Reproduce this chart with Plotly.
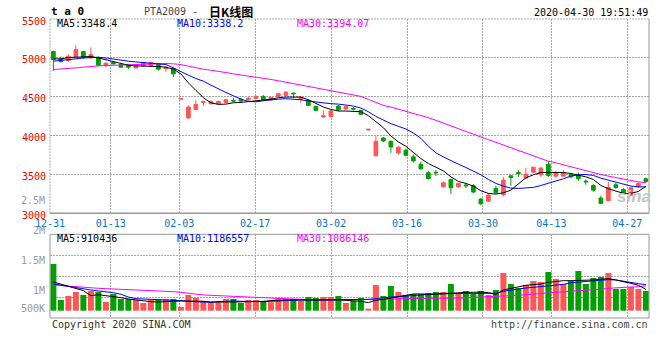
import plotly.graph_objects as go

# ---------------- data ----------------
DATES = ["12-31",
         "01-02", "01-03", "01-06", "01-07", "01-08", "01-09", "01-10", "01-13", "01-14",
         "01-15", "01-16", "01-17", "01-20", "01-21", "01-22", "01-23",
         "02-03", "02-04", "02-05", "02-06", "02-07", "02-10", "02-11", "02-12", "02-13",
         "02-14", "02-17", "02-18", "02-19", "02-20", "02-21", "02-24", "02-25", "02-26",
         "02-27", "02-28",
         "03-02", "03-03", "03-04", "03-05", "03-06", "03-09", "03-10", "03-11", "03-12",
         "03-13", "03-16", "03-17", "03-18", "03-19", "03-20", "03-23", "03-24", "03-25",
         "03-26", "03-27", "03-30", "03-31",
         "04-01", "04-02", "04-03", "04-07", "04-08", "04-09", "04-10", "04-13", "04-14",
         "04-15", "04-16", "04-17", "04-20", "04-21", "04-22", "04-23", "04-24", "04-27",
         "04-28", "04-29", "04-30"]

OPEN = [5081, 4987, 4965, 5017, 5081, 4999, 4999, 4905, 4940, 4914,
        4905, 4871, 4897, 4901, 4923, 4863, 4863, 4469, 4226, 4337,
        4427, 4410, 4410, 4427, 4452, 4465, 4461, 4478, 4504, 4461,
        4504, 4517, 4546, 4469, 4452, 4375, 4239, 4247, 4380, 4341,
        4350, 4324, 4072, 3739, 3969, 3927, 3777, 3811, 3726, 3632,
        3521, 3529, 3341, 3435, 3341, 3363, 3354, 3183, 3157, 3320,
        3243, 3482, 3525, 3452, 3529, 3495, 3632, 3478, 3478, 3499,
        3491, 3414, 3358, 3196, 3162, 3367, 3307, 3230, 3341, 3444]
HIGH = [5093, 5017, 5042, 5162, 5081, 5136, 5017, 4940, 4948, 4931,
        4905, 4914, 4948, 4952, 4931, 4888, 4880, 4482, 4388, 4452,
        4452, 4452, 4448, 4469, 4487, 4487, 4495, 4512, 4521, 4495,
        4546, 4568, 4555, 4504, 4461, 4384, 4324, 4333, 4393, 4384,
        4367, 4333, 4085, 3995, 3982, 3935, 3863, 3833, 3756, 3666,
        3546, 3555, 3410, 3444, 3392, 3392, 3375, 3196, 3256, 3354,
        3469, 3491, 3555, 3585, 3597, 3597, 3666, 3546, 3555, 3521,
        3525, 3435, 3375, 3226, 3401, 3392, 3324, 3341, 3401, 3461]
LOW = [4829, 4940, 4948, 5017, 4987, 4999, 4897, 4880, 4914, 4871,
       4854, 4863, 4888, 4880, 4837, 4820, 4752, 4465, 4222, 4337,
       4380, 4397, 4401, 4418, 4427, 4427, 4452, 4469, 4452, 4452,
       4495, 4508, 4482, 4418, 4380, 4316, 4239, 4230, 4316, 4333,
       4324, 4264, 4068, 3739, 3914, 3777, 3756, 3730, 3653, 3555,
       3435, 3478, 3333, 3247, 3333, 3324, 3256, 3106, 3145, 3256,
       3217, 3354, 3469, 3452, 3521, 3469, 3469, 3452, 3469, 3452,
       3418, 3367, 3277, 3119, 3162, 3316, 3256, 3221, 3324, 3392]
CLOSE = [4978, 4952, 5021, 5106, 5008, 5042, 4905, 4931, 4923, 4880,
         4880, 4905, 4940, 4940, 4854, 4880, 4794, 4478, 4367, 4401,
         4435, 4440, 4440, 4461, 4444, 4444, 4482, 4504, 4461, 4491,
         4538, 4559, 4538, 4495, 4388, 4324, 4256, 4316, 4333, 4375,
         4341, 4273, 4081, 3927, 3931, 3854, 3850, 3747, 3674, 3572,
         3448, 3521, 3392, 3328, 3384, 3354, 3273, 3123, 3234, 3264,
         3427, 3461, 3512, 3504, 3593, 3581, 3487, 3521, 3521, 3469,
         3444, 3405, 3298, 3127, 3333, 3333, 3264, 3328, 3384, 3410]

MA5 = [4987, 4987, 5004, 5008, 5017, 5017, 4999, 4974, 4948, 4923,
       4905, 4897, 4897, 4897, 4888, 4880, 4854, 4794, 4679, 4581,
       4487, 4422, 4401, 4405, 4422, 4427, 4435, 4444, 4457, 4469,
       4487, 4495, 4495, 4495, 4461, 4418, 4367, 4337, 4316, 4316,
       4316, 4307, 4256, 4179, 4102, 3995, 3918, 3863, 3786, 3704,
       3640, 3597, 3546, 3469, 3410, 3384, 3350, 3290, 3256, 3247,
       3264, 3298, 3384, 3457, 3495, 3525, 3525, 3529, 3525, 3512,
       3495, 3469, 3435, 3358, 3316, 3290, 3256, 3256, 3281, 3348]
MA10 = [4957, 4965, 4974, 4987, 4999, 5008, 5008, 4999, 4982, 4965,
        4957, 4948, 4940, 4931, 4923, 4914, 4871, 4829, 4777, 4734,
        4700, 4649, 4598, 4555, 4512, 4469, 4440, 4435, 4448, 4461,
        4469, 4474, 4469, 4461, 4444, 4431, 4418, 4410, 4405, 4397,
        4380, 4354, 4307, 4247, 4196, 4153, 4119, 4085, 4033, 3965,
        3863, 3777, 3726, 3674, 3632, 3589, 3546, 3495, 3435, 3384,
        3350, 3324, 3320, 3324, 3333, 3358, 3384, 3410, 3444, 3478,
        3495, 3499, 3487, 3452, 3427, 3392, 3367, 3350, 3341, 3338]
MA30 = [4850, 4854, 4858, 4871, 4880, 4893, 4897, 4901, 4905, 4910,
        4914, 4918, 4923, 4927, 4927, 4927, 4923, 4914, 4893, 4871,
        4854, 4841, 4829, 4811, 4794, 4781, 4764, 4752, 4734, 4722,
        4705, 4687, 4670, 4653, 4636, 4615, 4593, 4581, 4564, 4546,
        4529, 4504, 4465, 4427, 4388, 4367, 4341, 4316, 4290, 4264,
        4230, 4196, 4162, 4128, 4089, 4055, 4016, 3982, 3948, 3914,
        3875, 3837, 3803, 3768, 3734, 3700, 3670, 3649, 3623, 3597,
        3572, 3546, 3521, 3499, 3478, 3457, 3439, 3422, 3405, 3394]

VOLUME = [1478000, 878000, 945000, 1012000, 962000, 1028000, 1012000, 845000, 978000, 895000,
          895000, 878000, 828000, 887000, 887000, 895000, 895000, 762000, 962000, 912000,
          862000, 837000, 862000, 895000, 895000, 828000, 878000, 878000, 857000, 840000,
          912000, 895000, 895000, 862000, 928000, 912000, 928000, 928000, 945000, 828000,
          862000, 912000, 733000, 1128000, 945000, 1112000, 1012000, 962000, 978000, 978000,
          995000, 1012000, 1012000, 1145000, 995000, 1028000, 978000, 1028000, 962000, 1045000,
          1328000, 1145000, 1078000, 1128000, 1195000, 1178000, 1345000, 1228000, 1145000, 1195000,
          1362000, 1145000, 1245000, 1262000, 1328000, 1062000, 1062000, 1095000, 1062000, 1028000]
VMA5 = [1178000, 1145000, 1100000, 1067000, 1034000, 950000, 967000, 950000, 939000, 917000,
        895000, 878000, 867000, 850000, 845000, 845000, 856000, 862000, 862000, 862000,
        856000, 845000, 839000, 845000, 845000, 845000, 845000, 850000, 856000, 867000,
        878000, 878000, 878000, 878000, 884000, 889000, 889000, 889000, 878000, 873000,
        867000, 856000, 834000, 873000, 889000, 912000, 934000, 967000, 978000, 978000,
        973000, 973000, 978000, 989000, 1006000, 1006000, 1006000, 1011000, 1000000, 973000,
        1045000, 1073000, 1100000, 1123000, 1134000, 1145000, 1173000, 1189000, 1200000, 1200000,
        1200000, 1206000, 1212000, 1223000, 1234000, 1212000, 1189000, 1156000, 1123000, 1056000]
VMA10 = [1145000, 1123000, 1106000, 1089000, 1067000, 1045000, 1028000, 1017000, 1000000, 973000,
         928000, 900000, 895000, 889000, 889000, 884000, 878000, 867000, 856000, 850000,
         845000, 839000, 850000, 862000, 862000, 856000, 850000, 850000, 850000, 856000,
         862000, 873000, 878000, 878000, 878000, 878000, 884000, 889000, 878000, 878000,
         878000, 884000, 889000, 900000, 917000, 928000, 934000, 945000, 956000, 967000,
         978000, 984000, 989000, 989000, 989000, 989000, 989000, 989000, 989000, 989000,
         1023000, 1045000, 1056000, 1078000, 1089000, 1100000, 1112000, 1123000, 1139000, 1167000,
         1178000, 1189000, 1195000, 1206000, 1217000, 1212000, 1189000, 1167000, 1150000, 1134000]
VMA30 = [1128000, 1117000, 1112000, 1100000, 1089000, 1084000, 1073000, 1067000, 1062000, 1056000,
         1050000, 1050000, 1045000, 1039000, 1034000, 1028000, 1017000, 1006000, 989000, 973000,
         962000, 956000, 950000, 939000, 934000, 928000, 923000, 917000, 912000, 906000,
         900000, 895000, 889000, 884000, 878000, 878000, 878000, 878000, 878000, 878000,
         878000, 878000, 878000, 884000, 889000, 895000, 900000, 900000, 906000, 906000,
         906000, 906000, 906000, 906000, 906000, 912000, 923000, 928000, 934000, 934000,
         934000, 945000, 956000, 967000, 978000, 989000, 995000, 1006000, 1017000, 1028000,
         1034000, 1039000, 1045000, 1056000, 1073000, 1084000, 1089000, 1095000, 1100000, 1112000]

TICK_DATES = ["12-31", "01-13", "02-03", "02-17", "03-02", "03-16", "03-30", "04-13", "04-27"]
PRICE_TICKS = [3000, 3500, 4000, 4500, 5000, 5500]
VOL_TICK_VALUES = [2500000, 2000000, 1500000, 1000000, 500000]
VOL_TICK_TEXT = ["2.5M", "2M", "1.5M", "1M", "500K"]

# ---------------- styling / layout constants ----------------
W, H = 660, 360
ML, MR, MT, MB = 50, 11, 19, 42
PW, PH = W - ML - MR, H - MT - MB
RED, GREEN = "#ff5555", "#00a000"
GRID = "#a8a8a8"
MONO = "DejaVu Sans Mono"
PRICE_DOM = [0.3502, 1.0]
VOL_DOM = [0.0, 0.2799]
VOL_RANGE = [578000, 1973000]
VOL_FLOOR = 700000
X_RANGE = [-0.45, -0.45 + PW / 7.5]

idx = list(range(len(DATES)))
tick_pos = [DATES.index(d) * len(DATES) / (len(DATES) - 1) - 0.44 for d in TICK_DATES]
up = [c >= o for o, c in zip(OPEN, CLOSE)]
vol_colors = [RED if u else GREEN for u in up]

fig = go.Figure()
fig.add_trace(go.Candlestick(
    x=idx, open=OPEN, high=HIGH, low=LOW, close=CLOSE,
    increasing=dict(line=dict(color=RED, width=1), fillcolor=RED),
    decreasing=dict(line=dict(color=GREEN, width=1), fillcolor=GREEN),
    whiskerwidth=0, hoverinfo="skip", showlegend=False, xaxis="x", yaxis="y"))
for ser, col in ((MA30, "#ff00ff"), (MA10, "#0000ff"), (MA5, "#000000")):
    fig.add_trace(go.Scatter(x=idx, y=ser, mode="lines", line=dict(color=col, width=1),
                             hoverinfo="skip", showlegend=False, xaxis="x", yaxis="y"))

fig.add_trace(go.Bar(x=idx, y=[v - VOL_FLOOR for v in VOLUME], base=VOL_FLOOR,
                     marker=dict(color=vol_colors, line=dict(width=0)), width=0.8,
                     hoverinfo="skip", showlegend=False, xaxis="x2", yaxis="y2"))
for ser, col in ((VMA30, "#ff00ff"), (VMA10, "#0000ff"), (VMA5, "#000000")):
    fig.add_trace(go.Scatter(x=idx, y=ser, mode="lines", line=dict(color=col, width=1),
                             hoverinfo="skip", showlegend=False, xaxis="x2", yaxis="y2"))


def px(x):
    return (x - ML) / PW


def py(y):
    return (MT + PH - y) / PH


def ann(text, x, y, color="#000", size=10, anchor="left", family=MONO, **kw):
    return dict(text=text, x=px(x), y=py(y), xref="paper", yref="paper",
                xanchor=anchor, yanchor="middle", showarrow=False,
                font=dict(family=family, size=size, color=color), **kw)


def vol_y(v):
    frac = (v - VOL_RANGE[0]) / (VOL_RANGE[1] - VOL_RANGE[0])
    return VOL_DOM[0] + frac * (VOL_DOM[1] - VOL_DOM[0])


annotations = [
    ann("<b>t a 0</b>", 48.5, 11.3, size=11),
    ann("PTA2009 -", 141.5, 11.5, color="#444"),
    ann("<b>日K线图</b>", 207, 11.3, size=12, family="Noto Sans CJK SC"),
    ann("2020-04-30 19:51:49", 649.5, 12.3, anchor="right"),
    ann("MA5:3348.4", 55, 24, color="#000"),
    ann("MA10:3338.2", 174.5, 24, color="#0000ff"),
    ann("MA30:3394.07", 295, 24, color="#ff00ff"),
    ann("MA5:910436", 55, 238.7, color="#000"),
    ann("MA10:1186557", 175, 238.7, color="#0000ff"),
    ann("MA30:1086146", 295, 238.7, color="#ff00ff"),
    ann("Copyright 2020 SINA.COM", 49.5, 324.3, color="#333"),
    ann("http://finance.sina.com.cn", 649.5, 324.3, color="#444", anchor="right"),
    ann("<b><i>sina</i></b>", 634, 196.5, color="#c4c4c4", size=17, anchor="center",
        family="Liberation Sans"),
]
for v, t in zip(VOL_TICK_VALUES, VOL_TICK_TEXT):
    shift = 14 if v < VOL_RANGE[0] else 2
    annotations.append(dict(text=t, x=px(46.5), y=vol_y(v), xref="paper", yref="paper",
                            xanchor="right", yanchor="middle", yshift=shift, showarrow=False,
                            font=dict(family=MONO, size=10, color="#999")))

shapes = [
    dict(type="line", xref="x domain", yref="y domain", x0=0, x1=1, y0=1, y1=1,
         line=dict(color=GRID, width=1, dash="2px,1px")),
    dict(type="line", xref="x domain", yref="y domain", x0=0, x1=0, y0=0, y1=1,
         line=dict(color=GRID, width=1, dash="2px,1px")),
    dict(type="line", xref="x domain", yref="y domain", x0=1, x1=1, y0=0, y1=1,
         line=dict(color="#999", width=1)),
    dict(type="line", xref="x domain", yref="y domain", x0=0, x1=1, y0=0, y1=0,
         line=dict(color="#999", width=1.5)),
    dict(type="rect", xref="x2 domain", yref="y2 domain", x0=0, x1=1, y0=0, y1=1,
         line=dict(color="#999", width=1)),
]

xcommon = dict(range=X_RANGE, tickmode="array", tickvals=tick_pos, showgrid=True,
               gridcolor=GRID, griddash="2px,1px", gridwidth=1, zeroline=False,
               showline=False, ticks="", fixedrange=True, automargin=False)

fig.update_layout(
    width=W, height=H,
    margin=dict(l=ML, r=MR, t=MT, b=MB),
    paper_bgcolor="white", plot_bgcolor="white",
    hovermode=False, showlegend=False, bargap=0.2,
    xaxis=dict(domain=[0, 1], anchor="y", ticktext=TICK_DATES,
               tickfont=dict(family=MONO, size=10, color="#0077cc"),
               ticklabelstandoff=3,
               rangeslider=dict(visible=False), **xcommon),
    xaxis2=dict(domain=[0, 1], anchor="y2", matches="x", showticklabels=False, **xcommon),
    yaxis=dict(domain=PRICE_DOM, range=[3000, 5500], tickmode="array",
               tickvals=PRICE_TICKS, ticktext=[str(t) for t in PRICE_TICKS],
               tickfont=dict(family=MONO, size=10, color="#ee0000"),
               showgrid=True, gridcolor=GRID, griddash="2px,1px", zeroline=False,
               ticks="", ticklabelstandoff=3, ticklabelshift=2, automargin=False,
               fixedrange=True, showline=False),
    yaxis2=dict(domain=VOL_DOM, range=VOL_RANGE, tickmode="array",
                tickvals=[VOL_RANGE[0] + (VOL_RANGE[1] - VOL_RANGE[0]) * j / 4 for j in (1, 2, 3)],
                showticklabels=False, showgrid=True, gridcolor=GRID, griddash="2px,1px",
                zeroline=False, ticks="", automargin=False, fixedrange=True, showline=False),
    annotations=annotations,
    shapes=shapes,
)

fig.write_html("out.html", config={"displayModeBar": False, "staticPlot": True},
               post_script="document.body.style.margin='0px';document.body.style.padding='0px';")
